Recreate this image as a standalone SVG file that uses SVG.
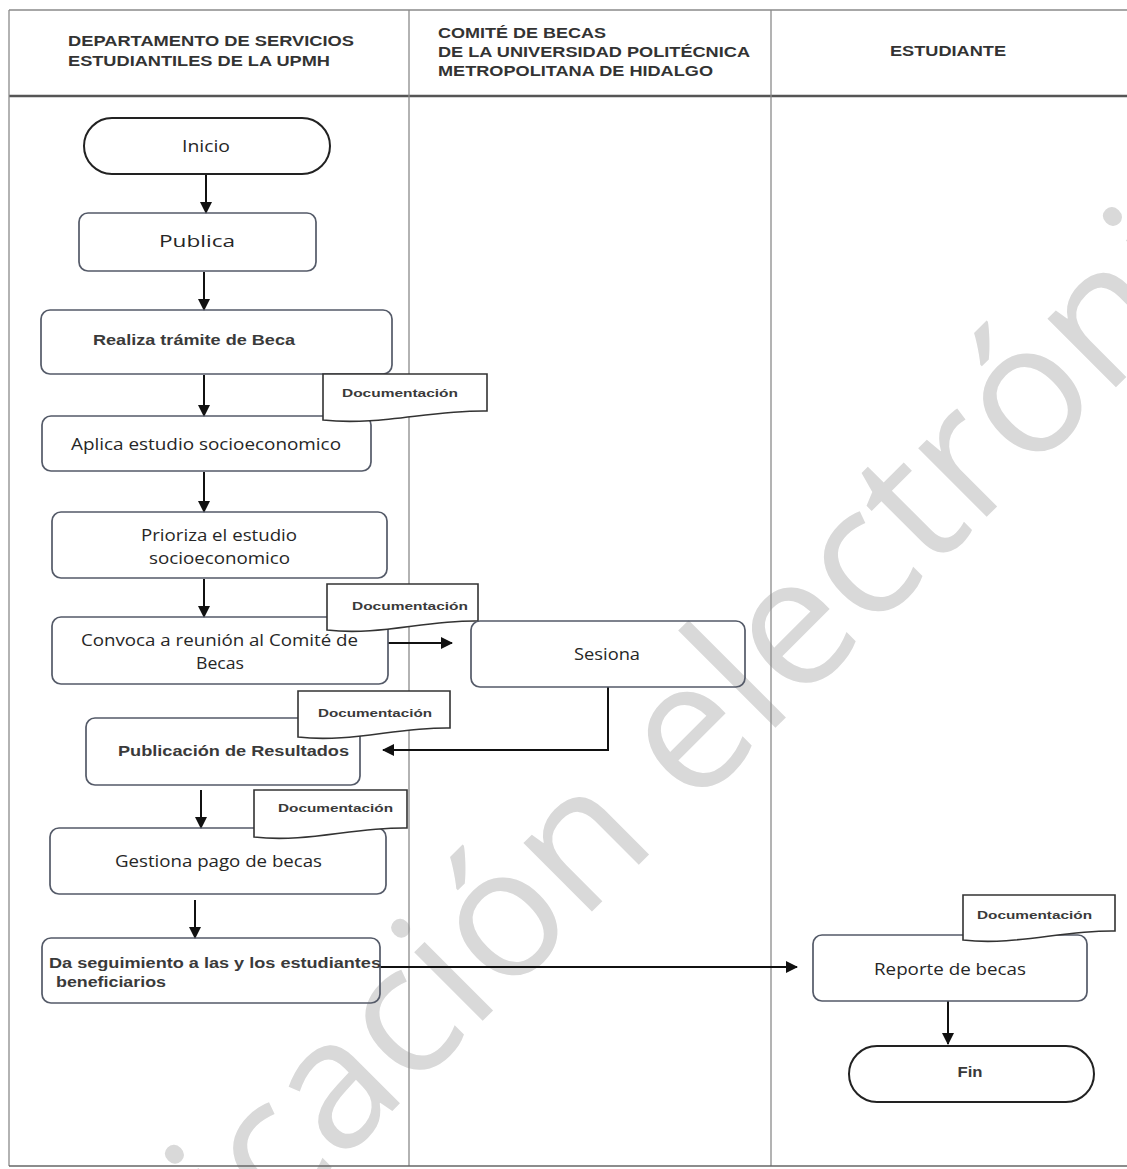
<svg xmlns="http://www.w3.org/2000/svg" width="1127" height="1169" viewBox="0 0 1127 1169">
<style>
.lane{stroke:#8a8a8a;stroke-width:1.3;fill:none}
.hdr{font-family:"Liberation Sans",Arial,sans-serif;font-weight:bold;font-size:14px;fill:#333}
.box{fill:none;stroke:#545a68;stroke-width:1.7}
.term{fill:none;stroke:#222;stroke-width:2}
.doc{fill:#fff;stroke:#333;stroke-width:1.6}
.t{font-family:"Open Sans","Liberation Sans",sans-serif;font-size:16px;fill:#262626}
.b{font-family:"Liberation Sans",Arial,sans-serif;font-weight:bold;font-size:14px;fill:#3a3a3a}
.dt{font-family:"Liberation Sans",Arial,sans-serif;font-weight:bold;font-size:11.5px;fill:#3a3a3a}
.wm{font-family:"Open Sans","Liberation Sans",sans-serif;font-size:181px;fill:#d9d9d9}
.c{fill:none;stroke:#111;stroke-width:2}
</style>
<defs>
<marker id="ah" markerUnits="userSpaceOnUse" markerWidth="12" markerHeight="12" refX="11" refY="6" orient="auto">
<path d="M0,0 L12,6 L0,12 Z" fill="#111"/>
</marker>
</defs>
<rect x="0" y="0" width="1127" height="1169" fill="#fff"/>
<text class="wm" transform="rotate(-45)" x="-1092" y="1063">Publicación electrónica</text>
<g id="lanes">
<line class="lane" x1="9" y1="10" x2="1127" y2="10"/>
<line x1="9" y1="96" x2="1127" y2="96" stroke="#555" stroke-width="2.5"/>
<line class="lane" x1="9" y1="10" x2="9" y2="1166"/>
<line class="lane" x1="409" y1="10" x2="409" y2="1166"/>
<line class="lane" x1="771" y1="10" x2="771" y2="1166"/>
<line x1="9" y1="1166" x2="1127" y2="1166" stroke="#666" stroke-width="1.6"/>
<text class="hdr" x="68" y="46" textLength="286" lengthAdjust="spacingAndGlyphs">DEPARTAMENTO DE SERVICIOS</text>
<text class="hdr" x="68" y="66" textLength="262" lengthAdjust="spacingAndGlyphs">ESTUDIANTILES DE LA UPMH</text>
<text class="hdr" x="438" y="38" textLength="168" lengthAdjust="spacingAndGlyphs">COMITÉ DE BECAS</text>
<text class="hdr" x="438" y="57" textLength="312" lengthAdjust="spacingAndGlyphs">DE LA UNIVERSIDAD POLITÉCNICA</text>
<text class="hdr" x="438" y="76" textLength="275" lengthAdjust="spacingAndGlyphs">METROPOLITANA DE HIDALGO</text>
<text class="hdr" x="890" y="56" textLength="116" lengthAdjust="spacingAndGlyphs">ESTUDIANTE</text>
</g>
<g id="connectors">
<path class="c" d="M206,175 V213" marker-end="url(#ah)"/>
<path class="c" d="M204,272 V310" marker-end="url(#ah)"/>
<path class="c" d="M204,375 V416" marker-end="url(#ah)"/>
<path class="c" d="M204,472 V512" marker-end="url(#ah)"/>
<path class="c" d="M204,579 V617" marker-end="url(#ah)"/>
<path class="c" d="M388,643 H452" marker-end="url(#ah)"/>
<path class="c" d="M608,687 V750 H383" marker-end="url(#ah)"/>
<path class="c" d="M201,790 V828" marker-end="url(#ah)"/>
<path class="c" d="M195,900 V938" marker-end="url(#ah)"/>
<path class="c" d="M380,967 H797" marker-end="url(#ah)"/>
<path class="c" d="M948,1001 V1044" marker-end="url(#ah)"/>
</g>
<g id="inicio">
<rect class="term" x="84" y="118" width="246" height="56" rx="28"/>
<text class="t" x="206" y="152" text-anchor="middle" font-size="15" textLength="48" lengthAdjust="spacingAndGlyphs">Inicio</text>
</g>
<g id="publica">
<rect class="box" x="79" y="213" width="237" height="58" rx="9"/>
<text class="t" x="197" y="247" text-anchor="middle" font-size="20" textLength="76" lengthAdjust="spacingAndGlyphs">Publica</text>
</g>
<g id="realiza">
<rect class="box" x="41" y="310" width="351" height="64" rx="9"/>
<text class="b" x="93" y="345" textLength="202" lengthAdjust="spacingAndGlyphs">Realiza trámite de Beca</text>
</g>
<g id="aplica">
<rect class="box" x="42" y="416" width="329" height="55" rx="9"/>
<text class="t" x="71" y="450" textLength="270" lengthAdjust="spacingAndGlyphs">Aplica estudio socioeconomico</text>
</g>
<g id="doc1">
<path class="doc" d="M323,374 H487 V411 C430,410 380,426 323,420 Z"/>
<text class="dt" x="342" y="397" textLength="116" lengthAdjust="spacingAndGlyphs">Documentación</text>
</g>
<g id="prioriza">
<rect class="box" x="52" y="512" width="335" height="66" rx="9"/>
<text class="t" x="141" y="541" textLength="156" lengthAdjust="spacingAndGlyphs">Prioriza el estudio</text>
<text class="t" x="149" y="564" textLength="141" lengthAdjust="spacingAndGlyphs">socioeconomico</text>
</g>
<g id="convoca">
<rect class="box" x="52" y="617" width="336" height="67" rx="9"/>
<text class="t" x="81" y="646" textLength="277" lengthAdjust="spacingAndGlyphs">Convoca a reunión al Comité de</text>
<text class="t" x="196" y="669" textLength="48" lengthAdjust="spacingAndGlyphs">Becas</text>
</g>
<g id="doc2">
<path class="doc" d="M327,584 H478 V621 C425,620 380,636 327,630 Z"/>
<text class="dt" x="352" y="610" textLength="116" lengthAdjust="spacingAndGlyphs">Documentación</text>
</g>
<g id="sesiona">
<rect class="box" x="471" y="621" width="274" height="66" rx="9"/>
<text class="t" x="607" y="660" text-anchor="middle" textLength="66" lengthAdjust="spacingAndGlyphs">Sesiona</text>
</g>
<g id="publicacion">
<rect class="box" x="86" y="718" width="274" height="67" rx="9"/>
<text class="b" x="118" y="756" textLength="231" lengthAdjust="spacingAndGlyphs">Publicación de Resultados</text>
</g>
<g id="doc3">
<path class="doc" d="M298,691 H450 V728 C397,727 351,743 298,737 Z"/>
<text class="dt" x="318" y="717" textLength="114" lengthAdjust="spacingAndGlyphs">Documentación</text>
</g>
<g id="gestiona">
<rect class="box" x="50" y="828" width="336" height="66" rx="9"/>
<text class="t" x="115" y="867" textLength="207" lengthAdjust="spacingAndGlyphs">Gestiona pago de becas</text>
</g>
<g id="doc4">
<path class="doc" d="M254,790 H407 V828 C353,827 308,843 254,837 Z"/>
<text class="dt" x="278" y="812" textLength="115" lengthAdjust="spacingAndGlyphs">Documentación</text>
</g>
<g id="seguimiento">
<rect class="box" x="42" y="938" width="338" height="65" rx="9"/>
<text class="b" x="49" y="968" font-size="13.5" textLength="332" lengthAdjust="spacingAndGlyphs">Da seguimiento a las y los estudiantes</text>
<text class="b" x="56" y="987" font-size="13.5" textLength="110" lengthAdjust="spacingAndGlyphs">beneficiarios</text>
</g>
<g id="reporte">
<rect class="box" x="813" y="935" width="274" height="66" rx="9"/>
<text class="t" x="874" y="975" textLength="152" lengthAdjust="spacingAndGlyphs">Reporte de becas</text>
</g>
<g id="doc5">
<path class="doc" d="M963,895 H1115 V931 C1062,930 1016,946 963,940 Z"/>
<text class="dt" x="977" y="919" textLength="115" lengthAdjust="spacingAndGlyphs">Documentación</text>
</g>
<g id="fin">
<rect class="term" x="849" y="1046" width="245" height="56" rx="28"/>
<text class="b" x="970" y="1077" text-anchor="middle" textLength="25" lengthAdjust="spacingAndGlyphs">Fin</text>
</g>
</svg>
